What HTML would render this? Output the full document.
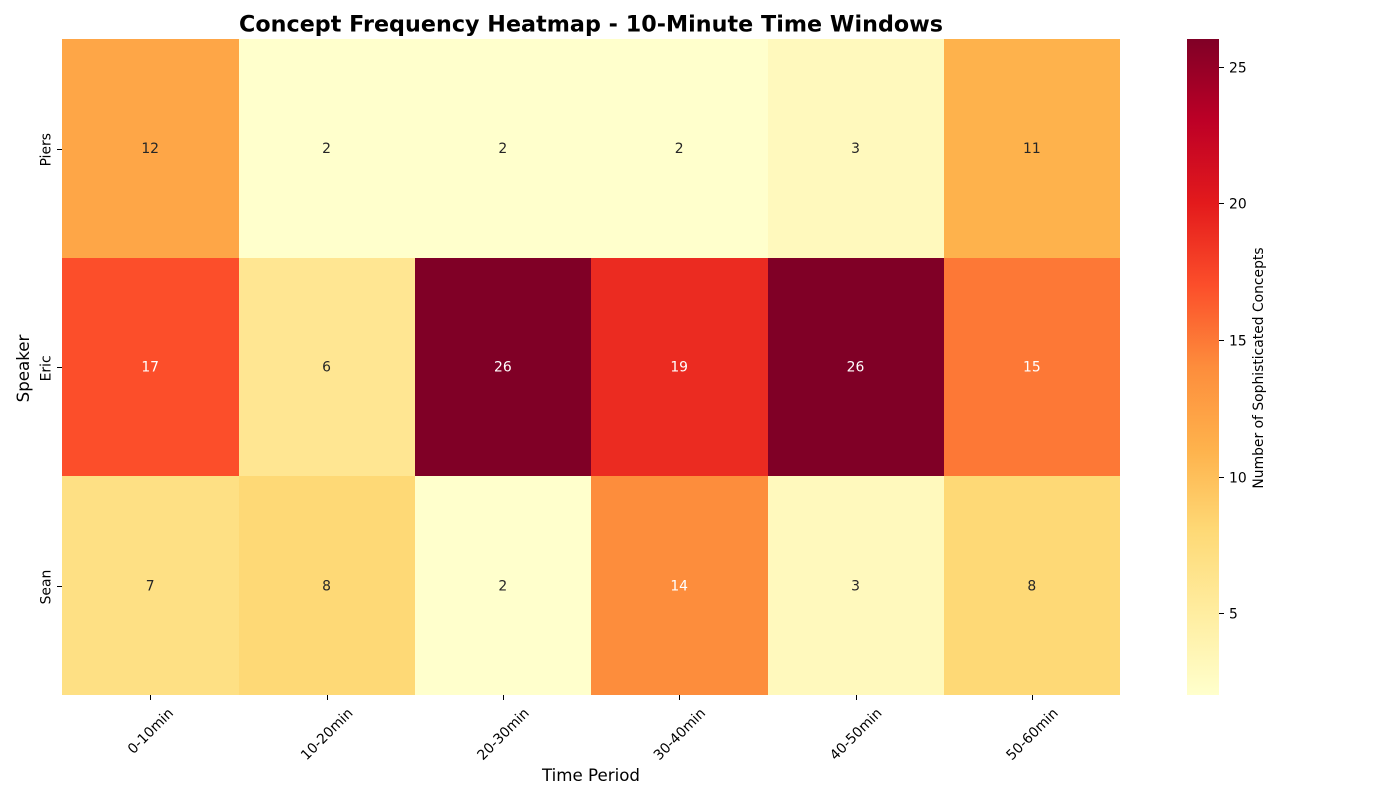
<!DOCTYPE html>
<html lang="en">
<head>
<meta charset="utf-8">
<title>Concept Frequency Heatmap</title>
<style>
html,body{margin:0;padding:0;background:#fff;width:1400px;height:800px;overflow:hidden}
svg{display:block}
text{font-family:"DejaVu Sans",sans-serif;fill:#000}
</style>
</head>
<body>
<svg id="chart" xmlns="http://www.w3.org/2000/svg" width="1400" height="800" viewBox="0 0 1400 800">
<rect x="0" y="0" width="1400" height="800" fill="#fff"/>
<text x="591" y="31.5" text-anchor="middle" font-size="22.22" font-weight="bold" textLength="704" lengthAdjust="spacing">Concept Frequency Heatmap - 10-Minute Time Windows</text>
<text x="591" y="781" text-anchor="middle" font-size="16.67">Time Period</text>
<text transform="translate(29,368.5) rotate(-90)" text-anchor="middle" font-size="16.67">Speaker</text>
<text transform="translate(1263,368) rotate(-90)" text-anchor="middle" font-size="13.89">Number of Sophisticated Concepts</text>
<g id="cells"></g>
<g id="annotations"></g>
<g id="xticks"></g>
<g id="yticks"></g>
<defs><linearGradient id="cbgrad" x1="0" y1="1" x2="0" y2="0"></linearGradient></defs>
<rect id="cbar" fill="url(#cbgrad)"/>
<g id="cticks"></g>
</svg>
<script>
const timePeriods = ['0-10min', '10-20min', '20-30min', '30-40min', '40-50min', '50-60min'];
const speakers = ['Piers', 'Eric', 'Sean'];
const piersValues = [12, 2, 2, 2, 3, 11];
const ericValues = [17, 6, 26, 19, 26, 15];
const seanValues = [7, 8, 2, 14, 3, 8];
const colorbarTicks = [5, 10, 15, 20, 25];
const colorStops = ['#ffffcc', '#ffeda0', '#fed976', '#feb24c', '#fd8d3c', '#fc4e2a', '#e31a1c', '#bd0026', '#800026'];

const seriesValues = [piersValues, ericValues, seanValues];
const NS = 'http://www.w3.org/2000/svg';
const plot = { left: 62, right: 1120, top: 39, bottom: 695 };
const cbar = { left: 1187, right: 1219 };
const allValues = seriesValues.flat();
const vMin = Math.min(...allValues);
const vMax = Math.max(...allValues);

function make(tag, attrs, parent) {
  const el = document.createElementNS(NS, tag);
  for (const k in attrs) el.setAttribute(k, attrs[k]);
  parent.appendChild(el);
  return el;
}
function xBand(i) { return plot.left + (plot.right - plot.left) * i / timePeriods.length; }
function yBand(i) { return plot.top + (plot.bottom - plot.top) * i / speakers.length; }
function cbarY(v) { return plot.bottom - (v - vMin) / (vMax - vMin) * (plot.bottom - plot.top); }
function hexToRgb(h) { return [1, 3, 5].map(p => parseInt(h.substr(p, 2), 16)); }
function colorFor(v) {
  const t = Math.max(0, Math.min(1, (v - vMin) / (vMax - vMin))) * (colorStops.length - 1);
  const i = Math.min(Math.floor(t), colorStops.length - 2);
  const a = hexToRgb(colorStops[i]);
  const b = hexToRgb(colorStops[i + 1]);
  return a.map((c, k) => Math.round(c + (b[k] - c) * (t - i)));
}
function luminance(rgb) {
  const c = rgb.map(x => { x /= 255; return x <= 0.03928 ? x / 12.92 : Math.pow((x + 0.055) / 1.055, 2.4); });
  return 0.2126 * c[0] + 0.7152 * c[1] + 0.0722 * c[2];
}

const cellsG = document.getElementById('cells');
const annG = document.getElementById('annotations');
seriesValues.forEach((row, r) => {
  row.forEach((v, c) => {
    const rgb = colorFor(v);
    const x0 = Math.ceil(xBand(c) - 0.001), x1 = Math.ceil(xBand(c + 1) - 0.001);
    const y0 = Math.round(yBand(r)), y1 = Math.round(yBand(r + 1));
    const cell = make('rect', { x: x0, y: y0, width: x1 - x0, height: y1 - y0, fill: 'rgb(' + rgb.join(',') + ')' }, cellsG);
    
    
    const label = make('text', {
      x: (xBand(c) + xBand(c + 1)) / 2,
      y: (yBand(r) + yBand(r + 1)) / 2 + 4.7,
      'text-anchor': 'middle',
      'font-size': 13.89,
      style: 'fill:' + (luminance(rgb) < 0.408 ? '#ffffff' : '#262626')
    }, annG);
    label.textContent = v;
    
    
  });
});

const xG = document.getElementById('xticks');
timePeriods.forEach((name, i) => {
  const cx = (xBand(i) + xBand(i + 1)) / 2;
  const tx = Math.round(cx) + 0.5;
  const tick = make('line', { x1: tx, x2: tx, y1: plot.bottom, y2: plot.bottom + 5, stroke: '#000', 'stroke-width': 1 }, xG);
  
  
  const t = make('text', { 'text-anchor': 'middle', 'font-size': 13.89 }, xG);
  t.textContent = name;
  
  
  const w = t.getComputedTextLength();
  const cy = plot.bottom + 9.7 + (w + 16) * Math.SQRT1_2 / 2;
  t.setAttribute('transform', 'translate(' + cx + ',' + cy + ') rotate(-45) translate(0,5)');
});

const yG = document.getElementById('yticks');
speakers.forEach((name, i) => {
  const cy = (yBand(i) + yBand(i + 1)) / 2;
  const ty = Math.ceil(cy - 0.001) + 0.5;
  const tick = make('line', { x1: plot.left - 5, x2: plot.left, y1: ty, y2: ty, stroke: '#000', 'stroke-width': 1 }, yG);
  
  
  const t = make('text', { 'text-anchor': 'middle', 'font-size': 13.89, transform: 'translate(50.5,' + (cy + 1.4) + ') rotate(-90)' }, yG);
  t.textContent = name;
  
  
});

const grad = document.getElementById('cbgrad');
colorStops.forEach((c, i) => {
  make('stop', { offset: i / (colorStops.length - 1), 'stop-color': c }, grad);
});
const bar = document.getElementById('cbar');
bar.setAttribute('x', cbar.left);
bar.setAttribute('y', plot.top);
bar.setAttribute('width', cbar.right - cbar.left);
bar.setAttribute('height', plot.bottom - plot.top);

const cG = document.getElementById('cticks');
colorbarTicks.forEach(v => {
  const y = Math.ceil(cbarY(v) - 0.001) + 0.5;
  const tick = make('line', { x1: cbar.right, x2: cbar.right + 5, y1: y, y2: y, stroke: '#000', 'stroke-width': 1 }, cG);
  
  
  const t = make('text', { x: cbar.right + 10, y: y + 4.8, 'font-size': 13.89 }, cG);
  t.textContent = v;
  
  
});
</script>
</body>
</html>
